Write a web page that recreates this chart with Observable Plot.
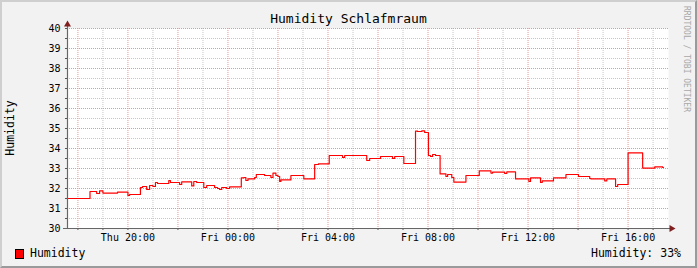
<!DOCTYPE html>
<html><head><meta charset="utf-8">
<script src="https://cdn.jsdelivr.net/npm/d3@7"></script>
<script src="https://cdn.jsdelivr.net/npm/@observablehq/plot@0.6"></script>
<style>
body{margin:0;background:#fff;}
#c{position:relative;width:697px;height:268px;background:#f2f2f2;overflow:hidden;font-family:"DejaVu Sans Mono",monospace;color:#000;}
#shade{position:absolute;left:0;top:0;width:697px;height:268px;box-sizing:border-box;border-top:2px solid #cfcfcf;border-left:2px solid #cfcfcf;border-right:2px solid #9a9a9a;border-bottom:2px solid #9a9a9a;}
#plot{position:absolute;left:0;top:0;}
.t{position:absolute;white-space:nowrap;line-height:1;}
#title{left:0;width:697px;top:12px;text-align:center;font-size:13px;}
#ylab{left:11px;top:128px;font-size:11.5px;transform:translate(-50%,-50%) rotate(-90deg);}
#wm{left:686px;top:59px;font-size:8px;color:#a8a8a8;transform:translate(-50%,-50%) rotate(90deg);}
#lgbox{position:absolute;left:15px;top:249px;width:7px;height:8px;background:#ff0000;border:1px solid #000;}
#lg{left:30px;top:248px;font-size:11.5px;}
#cur{right:16px;top:248px;font-size:11.5px;}
</style>
</head><body>
<div id="c">
  <div id="shade"></div>
  <div id="plot"></div>
  <div class="t" id="title">Humidity Schlafmraum</div>
  <div class="t" id="ylab">Humidity</div>
  <div class="t" id="wm">RRDTOOL / TOBI OETIKER</div>
  <div id="lgbox"></div>
  <div class="t" id="lg">Humidity</div>
  <div class="t" id="cur">Humidity: 33%</div>
</div>
<script>
// ---- data (step values) ----
const times = [
  "2009-01-01T17:35","2009-01-01T18:29","2009-01-01T18:45","2009-01-01T18:52","2009-01-01T19:00",
  "2009-01-01T19:35","2009-01-01T20:00","2009-01-01T20:04","2009-01-01T20:30","2009-01-01T20:35",
  "2009-01-01T20:45","2009-01-01T20:52","2009-01-01T21:00","2009-01-01T21:06","2009-01-01T21:11",
  "2009-01-01T21:38","2009-01-01T21:42","2009-01-01T22:04","2009-01-01T22:09","2009-01-01T22:33",
  "2009-01-01T22:38","2009-01-01T22:45","2009-01-01T23:02","2009-01-01T23:09","2009-01-01T23:28",
  "2009-01-01T23:35","2009-01-01T23:40","2009-01-01T23:45","2009-01-01T23:57",
  "2009-01-02T00:04","2009-01-02T00:32","2009-01-02T00:38","2009-01-02T00:43","2009-01-02T00:48",
  "2009-01-02T01:04","2009-01-02T01:08","2009-01-02T01:28","2009-01-02T01:43","2009-01-02T01:48",
  "2009-01-02T01:55","2009-01-02T02:00","2009-01-02T02:04","2009-01-02T02:07","2009-01-02T02:31",
  "2009-01-02T03:02","2009-01-02T03:28","2009-01-02T03:37","2009-01-02T04:03","2009-01-02T04:35",
  "2009-01-02T04:40","2009-01-02T05:33","2009-01-02T05:40","2009-01-02T06:06","2009-01-02T06:35",
  "2009-01-02T06:40","2009-01-02T07:02","2009-01-02T07:30","2009-01-02T07:35","2009-01-02T07:45",
  "2009-01-02T07:52","2009-01-02T08:01","2009-01-02T08:06","2009-01-02T08:11","2009-01-02T08:18",
  "2009-01-02T08:29","2009-01-02T08:43","2009-01-02T08:47","2009-01-02T08:57","2009-01-02T09:02",
  "2009-01-02T09:31","2009-01-02T10:03","2009-01-02T10:31","2009-01-02T10:35","2009-01-02T11:04",
  "2009-01-02T11:09","2009-01-02T11:30","2009-01-02T12:02","2009-01-02T12:06","2009-01-02T12:30",
  "2009-01-02T12:34","2009-01-02T13:01","2009-01-02T13:31","2009-01-02T14:01","2009-01-02T14:28",
  "2009-01-02T14:31","2009-01-02T15:04","2009-01-02T15:09","2009-01-02T15:30","2009-01-02T15:35",
  "2009-01-02T16:00","2009-01-02T16:35","2009-01-02T17:04","2009-01-02T17:23","2009-01-02T17:25"
];
const humidity = [
  31.50,31.85,31.75,31.88,31.77,
  31.82,31.65,31.70,32.05,32.10,
  31.95,32.15,32.10,32.30,32.25,
  32.40,32.30,32.20,32.33,32.13,
  32.35,32.30,32.05,32.15,32.05,
  32.00,31.95,32.05,32.00,
  32.08,32.53,32.55,32.40,32.48,
  32.55,32.70,32.65,32.55,32.77,
  32.65,32.60,32.35,32.43,32.65,
  32.48,33.20,33.23,33.65,33.55,
  33.65,33.40,33.50,33.60,33.50,
  33.60,33.25,34.87,34.85,34.88,
  34.80,33.65,33.60,33.70,33.65,
  32.73,32.60,32.70,32.55,32.32,
  32.65,32.88,32.77,32.82,32.75,
  32.83,32.48,32.35,32.53,32.30,
  32.38,32.53,32.70,32.60,32.50,
  32.48,32.38,32.48,32.10,32.20,
  33.78,33.02,33.08,33.05,33.05
];
const xDomain = ["2009-01-01T17:35", "2009-01-02T17:37"];
const xLabelTicks = ["2009-01-01T20:00","2009-01-02T00:00","2009-01-02T04:00","2009-01-02T08:00","2009-01-02T12:00","2009-01-02T16:00"];
const yTicks = [30,31,32,33,34,35,36,37,38,39,40];
const yMinorTicks = [30.5,31.5,32.5,33.5,34.5,35.5,36.5,37.5,38.5,39.5];

const parse = s => new Date(s + "Z");
const data = times.map((t, i) => ({t: parse(t), v: humidity[i]}));
const x0 = parse(xDomain[0]), x1 = parse(xDomain[1]);
const hourTicks = d3.utcHour.range(d3.utcHour.ceil(x0), x1);
const majorHours = hourTicks.filter(d => d.getUTCHours() % 2 === 0);
const minorHours = hourTicks.filter(d => d.getUTCHours() % 2 !== 0);

const dot = {strokeDasharray: "1,1", strokeOpacity: 1};
const plot = Plot.plot({
  width: 697, height: 268,
  marginLeft: 67, marginRight: 29, marginTop: 28, marginBottom: 40,
  style: {background: "transparent", fontFamily: "DejaVu Sans Mono, monospace", fontSize: "10px", color: "#000", overflow: "visible"},
  x: {type: "utc", domain: [x0, x1]},
  y: {domain: [30, 40]},
  marks: [
    Plot.frame({fill: "white", stroke: "none"}),
    Plot.gridY(yMinorTicks, {stroke: "#c6c6c6", ...dot}),
    Plot.gridX(minorHours, {stroke: "#c6c6c6", ...dot}),
    Plot.gridY(yTicks, {stroke: "#e09a9a", ...dot}),
    Plot.gridX(majorHours, {stroke: "#e09a9a", ...dot}),
    Plot.line(data, {x: "t", y: "v", curve: "step-after", stroke: "#ff0000", strokeWidth: 1.2}),
    Plot.axisX(hourTicks, {tickSize: 2, tickFormat: () => "", stroke: "#555", label: null}),
    Plot.axisY([...yTicks, ...yMinorTicks], {tickSize: 2, tickFormat: () => "", stroke: "#555", label: null}),
    Plot.ruleX([x0], {stroke: "#666", strokeWidth: 1.2, insetTop: -5}),
    Plot.ruleY([30], {stroke: "#666", strokeWidth: 1.2, insetLeft: -4, insetRight: -4}),
    Plot.dot([0], {frameAnchor: "top-left", dy: -4, symbol: "triangle", r: 2.6, fill: "#7f1f1f", stroke: "none"}),
    Plot.dot([0], {frameAnchor: "bottom-right", dx: 3, symbol: "triangle", rotate: 90, r: 2.6, fill: "#7f1f1f", stroke: "none"}),
    Plot.axisX(xLabelTicks.map(parse), {tickSize: 0, tickPadding: 5, tickFormat: d3.utcFormat("%a %H:%M"), label: null, fontSize: 10}),
    Plot.axisY(yTicks, {tickSize: 0, tickPadding: 7, label: null, fontSize: 10})
  ]
});
document.getElementById("plot").appendChild(plot);
</script>
</body></html>
